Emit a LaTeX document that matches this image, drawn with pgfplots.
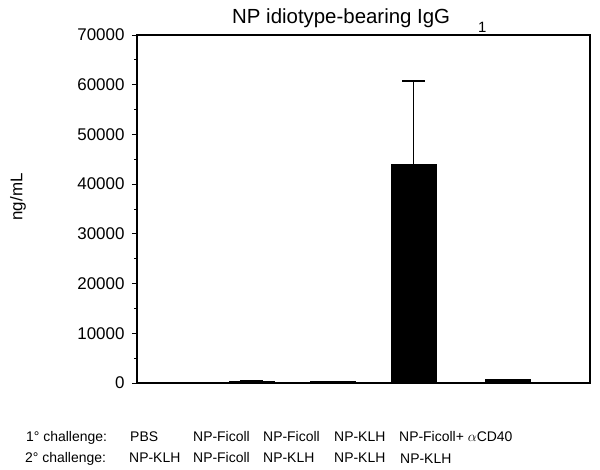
\documentclass[border=0pt]{standalone}
\usepackage{pgfplots}
\pgfplotsset{compat=1.18}
\usepackage{fontspec}
\setmainfont{Liberation Sans}
\begin{document}
\begin{tikzpicture}
\path[use as bounding box] (-137bp,-87bp) rectangle (463bp,383bp);
\begin{axis}[
  at={(0,0)}, anchor=south west,
  scale only axis,
  width=453bp, height=348bp,
  xmin=0, xmax=453,
  ymin=0, ymax=70000,
  ytick={0,10000,...,70000},
  minor y tick num=1,
  xtick=\empty,
  tick align=outside,
  major tick length=5bp,
  minor tick length=2.5bp,
  ytick pos=left,
  axis line style={line width=1.1bp},
  every tick/.style={black, line width=1bp},
  /pgf/number format/assume math mode=true,
  scaled y ticks=false,
  yticklabel style={font=\fontsize{17}{20}\selectfont, xshift=-4bp, /pgf/number format/1000 sep={}},
]
\addplot[ybar, bar width=45bp, fill=black, draw=black,
  error bars/.cd, y dir=plus, y explicit,
  error bar style={line width=1.3bp, black},
  error mark options={rotate=90, mark size=11.5bp, line width=1.3bp, black}]
  table[x=x, y=y, y error=e] {
x y e
33.5 50 0
114.5 400 0
195.5 350 0
276.5 44050 16700
371 700 0
};
\end{axis}
% title
\node[anchor=base west, font=\fontsize{20.5}{24}\selectfont, inner sep=0] at (95bp,359bp) {NP idiotype-bearing IgG};
\node[anchor=base west, font=\fontsize{15}{18}\selectfont, inner sep=0] at (341bp,350bp) {1};
% y label
\node[rotate=90, font=\fontsize{17}{20}\selectfont, inner sep=0] at (-119bp,186bp) {ng/mL};
% challenge rows
\begin{scope}[every node/.style={anchor=base west, inner sep=0, font=\fontsize{14}{17}\selectfont}]
\node at (-111bp,-58bp) {1° challenge:};
\node at (-7bp,-58bp) {PBS};
\node at (56bp,-58bp) {NP-Ficoll};
\node at (126bp,-58bp) {NP-Ficoll};
\node at (197bp,-58bp) {NP-KLH};
\node at (262bp,-58bp) {NP-Ficoll+ $\alpha$CD40};
\node at (-112bp,-79bp) {2° challenge:};
\node at (-8bp,-79bp) {NP-KLH};
\node at (56bp,-79bp) {NP-Ficoll};
\node at (126bp,-79bp) {NP-KLH};
\node at (197bp,-79bp) {NP-KLH};
\node at (263bp,-80bp) {NP-KLH};
\end{scope}
\end{tikzpicture}
\end{document}
